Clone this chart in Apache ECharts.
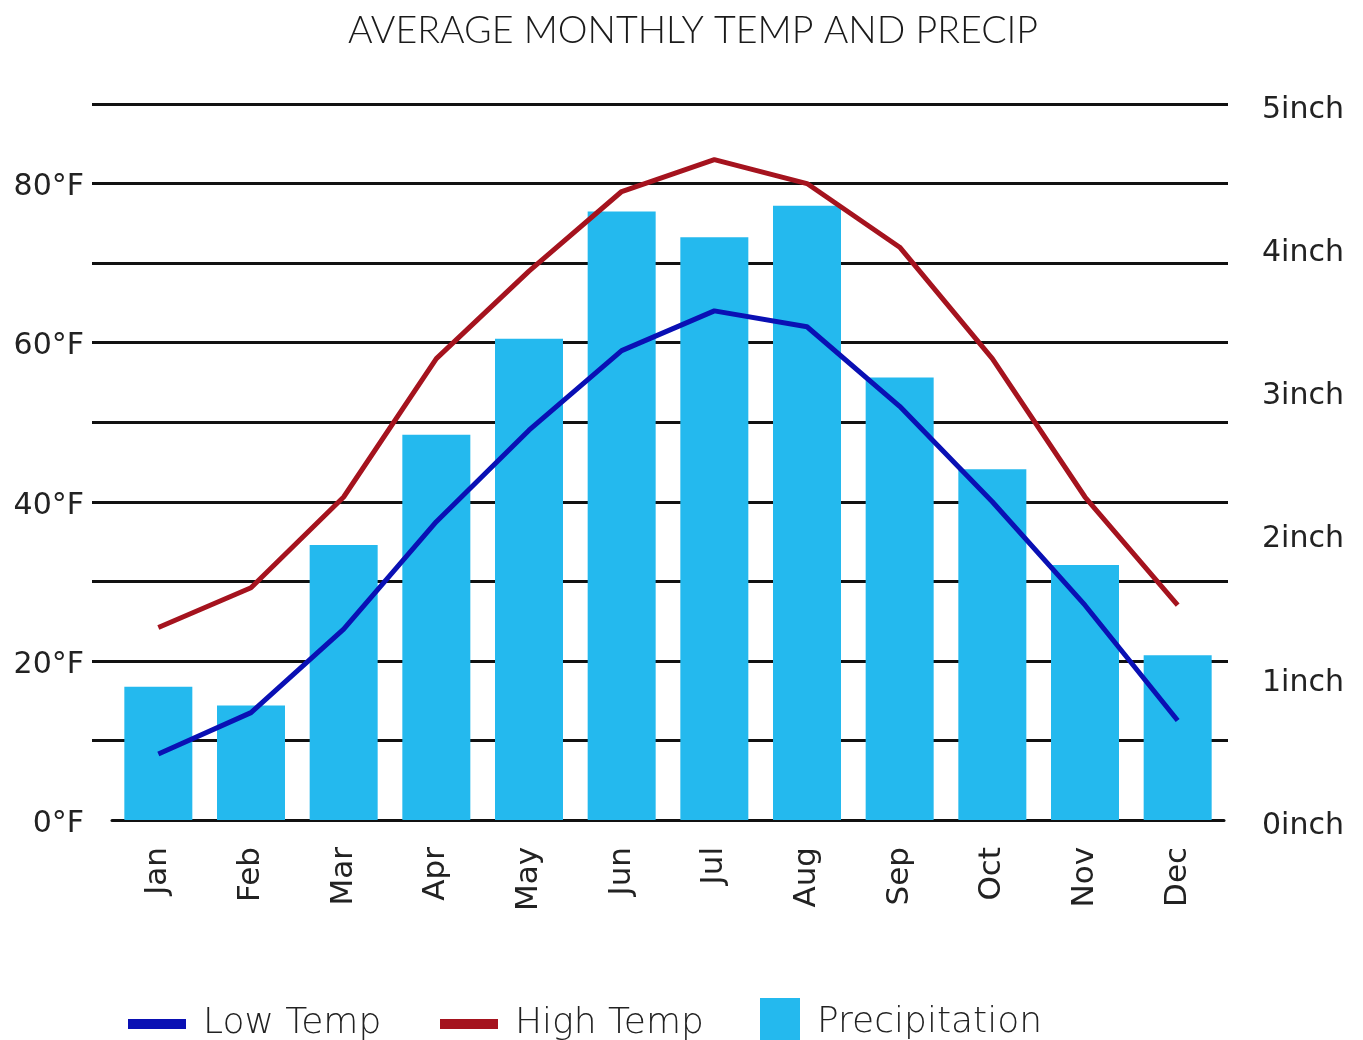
<!DOCTYPE html>
<html>
<head>
<meta charset="utf-8">
<script src="https://cdn.jsdelivr.net/npm/echarts@6/dist/echarts.min.js"></script>
<style>
  html, body { margin: 0; padding: 0; background: #fff; }
  #main { width: 1363px; height: 1040px; }
</style>
</head>
<body>
<div id="main"></div>
<script>
// 数据
var months = ["Jan", "Feb", "Mar", "Apr", "May", "Jun", "Jul", "Aug", "Sep", "Oct", "Nov", "Dec"];
var lowTemp = [8.3, 13.5, 24, 37.5, 49, 59, 64, 62, 52, 40, 27, 12.5];
var highTemp = [24.2, 29.2, 40.6, 58, 69, 79, 83, 80, 72, 58, 40.6, 27];
var precip = [0.93, 0.80, 1.92, 2.69, 3.36, 4.25, 4.07, 4.29, 3.09, 2.45, 1.78, 1.15];

var labelFont = "DejaVu Sans";
var titleFont = "Lato";

var chart = echarts.init(document.getElementById("main"));

var legendText = { fontFamily: labelFont, fontWeight: 200, fontSize: 36, color: "#222", padding: [0, 0, 0, 12] };

var option = {
  backgroundColor: "#fff",
  animation: false,
  title: {
    text: "AVERAGE MONTHLY TEMP AND PRECIP",
    left: 343,
    top: 7,
    textStyle: { fontFamily: titleFont, fontWeight: 300, fontSize: 37.6, color: "#1a1a1a" }
  },
  // 三个图例分开放，图标大小不同
  legend: [
    {
      data: ["Low Temp"], left: 123, top: 1001, icon: "rect",
      itemWidth: 58, itemHeight: 10, textStyle: legendText
    },
    {
      data: ["High Temp"], left: 435, top: 1001, icon: "rect",
      itemWidth: 58, itemHeight: 10, textStyle: legendText
    },
    {
      // 方块下边被画布截掉
      data: ["Precipitation"], left: 755, top: 993, icon: "rect",
      itemWidth: 40, itemHeight: 50, textStyle: legendText
    }
  ],
  grid: [
    // 显示网格线和刻度
    { left: 92, right: 135, top: 104, bottom: 220 },
    // 画数据
    { left: 112, right: 139, top: 104, bottom: 220 }
  ],
  xAxis: [
    { gridIndex: 0, type: "value", show: false },
    {
      gridIndex: 1,
      type: "category",
      data: months,
      axisLine: { lineStyle: { color: "#111", width: 3 } },
      axisTick: { show: false },
      axisLabel: {
        rotate: 90,
        margin: 27,
        fontFamily: labelFont,
        fontSize: 31,
        color: "#222"
      }
    }
  ],
  yAxis: [
    {
      gridIndex: 0,
      type: "value",
      position: "left",
      min: 0, max: 90, interval: 10,
      axisLine: { show: false },
      axisTick: { show: false },
      splitLine: { show: true, showMinLine: false, lineStyle: { color: "#111", width: 3 } },
      axisLabel: {
        margin: 8,
        formatter: function (v) { return (v % 20 === 0 && v <= 80) ? "{t|" + v + "°F}" : ""; },
        rich: {
          t: { fontFamily: labelFont, fontSize: 30, color: "#222", padding: [8, 0, 0, 0] }
        }
      }
    },
    {
      gridIndex: 0,
      type: "value",
      position: "right",
      min: 0, max: 5, interval: 1,
      axisLine: { show: false },
      axisTick: { show: false },
      splitLine: { show: false },
      axisLabel: {
        margin: 34,
        formatter: "{t|{value}inch}",
        rich: {
          t: { fontFamily: labelFont, fontSize: 30, color: "#222", padding: [12, 0, 0, 0] }
        }
      }
    },
    { gridIndex: 1, type: "value", min: 0, max: 90, show: false, splitLine: { show: false } },
    { gridIndex: 1, type: "value", min: 0, max: 5, show: false, splitLine: { show: false } }
  ],
  series: [
    {
      name: "Precipitation",
      type: "bar",
      xAxisIndex: 1,
      yAxisIndex: 3,
      barWidth: 68,
      itemStyle: { color: "#24B9EE" },
      data: precip
    },
    {
      name: "Low Temp",
      type: "line",
      xAxisIndex: 1,
      yAxisIndex: 2,
      symbol: "none",
      lineStyle: { color: "#0A10B4", width: 5 },
      itemStyle: { color: "#0A10B4" },
      data: lowTemp
    },
    {
      name: "High Temp",
      type: "line",
      xAxisIndex: 1,
      yAxisIndex: 2,
      symbol: "none",
      lineStyle: { color: "#A5131E", width: 5 },
      itemStyle: { color: "#A5131E" },
      data: highTemp
    }
  ]
};

chart.setOption(option);
</script>
</body>
</html>
